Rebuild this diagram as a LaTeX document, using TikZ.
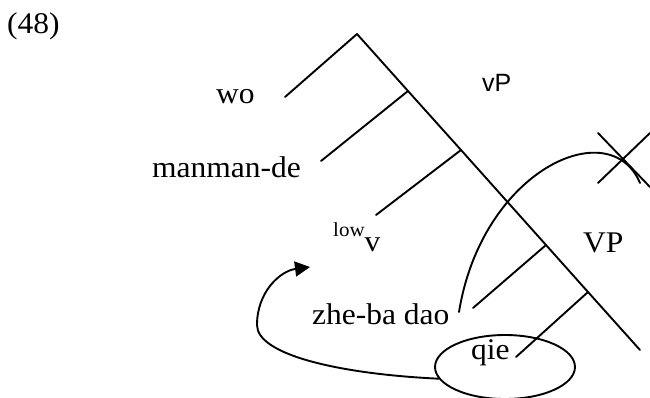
\documentclass[tikz,border=0pt]{standalone}
\usepackage{fontspec}
\setmainfont{Liberation Serif}[FakeStretch=1.05]
\newfontfamily\vpsans{Liberation Sans}
\usetikzlibrary{shapes.geometric,arrows.meta}
\begin{document}
\begin{tikzpicture}[x=1pt,y=-1pt,
  treeline/.style={line width=1.9pt,line cap=round},
  lbl/.style={anchor=base west,inner sep=0pt,font=\fontsize{30}{30}\selectfont},
  small/.style={anchor=base west,inner sep=0pt,font=\vpsans\fontsize{25}{25}\selectfont}]
\useasboundingbox (0,0) rectangle (650,397);
% labels
\node[lbl] (num) at (7,33) {(48)};
\node[lbl] (wo) at (216,103) {wo};
\node[lbl] (man) at (152,177) {manman-de};
\node[lbl] (lowv) at (333,251) {{\fontsize{20}{20}\selectfont\raisebox{15pt}{low}}v};
\node[small] (vp) at (482,91) {vP};
\node[lbl] (VP) at (583,252) {VP};
\node[lbl] (zhe) at (312,324) {zhe-ba dao};
\node[lbl] (qie) at (471,359) {qie};
% tree coordinates
\coordinate (top) at (357,34);
\coordinate (n1) at (408,91);
\coordinate (n2) at (461,150);
\coordinate (n3) at (546,245);
\coordinate (n4) at (588,292);
\coordinate (bot) at (640,350);
\coordinate (l0) at (285,97);
\coordinate (l1) at (321,161);
\coordinate (l2) at (376,215);
\coordinate (l3) at (473,308);
\coordinate (l4) at (516,357);
\draw[treeline] (top) -- (n1) -- (n2) -- (n3) -- (n4) -- (bot);
\draw[treeline] (top) -- (l0);
\draw[treeline] (n1) -- (l1);
\draw[treeline] (n2) -- (l2);
\draw[treeline] (n3) -- (l3);
\draw[treeline] (n4) -- (l4);
% movement curve crossed out
\coordinate (cs) at (459,312);
\coordinate (ce) at (640,183);
\draw[treeline] (cs) .. controls (482,170) and (610,112) .. (ce);
\coordinate (x1) at (598,133);
\coordinate (x2) at (650,187);
\coordinate (x3) at (650,133);
\coordinate (x4) at (598,183);
\draw[treeline] (x1) -- (x2);
\draw[treeline] (x3) -- (x4);
% oval around qie
\node[draw,ellipse,line width=1.9pt,minimum width=140pt,minimum height=64pt,inner sep=0pt] (oval) at (505,367) {};
% arrow
\coordinate (tip) at (310,267);
\coordinate (lft) at (257,325);
\draw[treeline,-{Triangle[length=15pt,width=15pt]}] (oval.190) .. controls (340,374) and (257,355) .. (lft) .. controls (257,292) and (280,271) .. (tip);
\end{tikzpicture}
\end{document}
